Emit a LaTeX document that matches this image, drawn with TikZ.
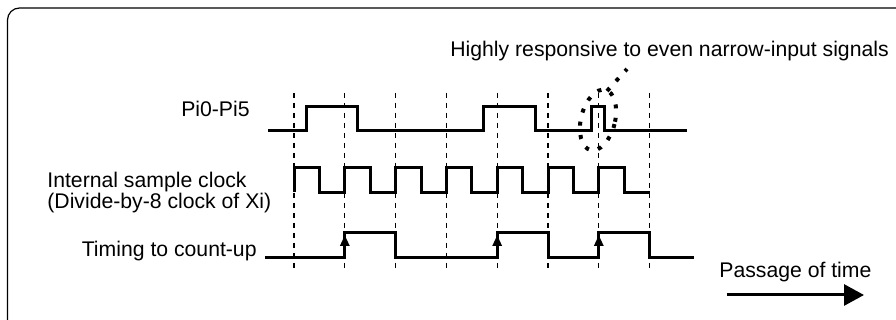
\documentclass[tikz,border=0pt]{standalone}
\usepackage{fontspec}
\setmainfont{Liberation Sans}
\usetikzlibrary{arrows.meta}

\begin{document}
\begin{tikzpicture}[x=0.5pt,y=-0.5pt,
  font=\fontsize{10.6}{10.3}\selectfont,
  lbl/.style = {inner sep=0pt},
  sig/.style = {line width=1.5pt,line join=miter},
  grid/.style = {line width=0.65pt,dash pattern=on 2.5pt off 2.5pt},
  dots/.style = {line width=2pt,dash pattern=on 2pt off 4.7pt}]
 \useasboundingbox (0,0) rectangle (896,320);
 \draw[line width=0.6pt,rounded corners=6pt] (7.5,8) rectangle (910,335);
 % labels
 \node[lbl,anchor=base east] (pi)   at (250,117) {Pi0-Pi5};
 \node[lbl,anchor=west,align=left] (clk) at (47,192.5)
   {Internal sample clock\\(Divide-by-8 clock of Xi)};
 \node[lbl,anchor=base east] (cnt)  at (257,256.7) {Timing to count-up};
 \node[lbl,anchor=base west] (note) at (450,57)
   {Highly responsive to even narrow-input signals};
 \node[lbl,anchor=base west] (time) at (719,278) {Passage of time};
 % sample points
 \foreach \i in {0,...,7}
   \draw[grid] (294+\i*50.8,93) -- (294+\i*50.8,272);
 % waveforms
 \draw[sig] (268,131) -- (306.7,131) -- (306.7,107) -- (357.3,107)
   -- (357.3,131) -- (483.3,131) -- (483.3,107) -- (535.3,107)
   -- (535.3,131) -- (591,131) -- (591,107) -- (604,107) -- (604,131)
   -- (687,131);
 \draw[sig] (294,192.5) \foreach \i in {0,...,6}
   { -- ++(0,-25) -- ++(25.4,0) -- ++(0,25) -- ++(25.4,0) };
 \draw[sig] (265,258) -- (344.8,258) -- (344.8,233) -- (395.6,233)
   -- (395.6,258) -- (497.2,258) -- (497.2,233) -- (548,233)
   -- (548,258) -- (598.8,258) -- (598.8,233) -- (649.6,233)
   -- (649.6,258) -- (694,258);
 \foreach \x in {344.8,497.2,598.8}
   \draw[sig,-{Triangle[length=5.5pt,width=4.5pt]},shorten >=1pt]
     (\x,258) -- (\x,233);
 % narrow pulse mark
 \draw[dots,rotate around={-14:(598,120)}] (598,120) ellipse [x radius=17,y radius=31];
 \coordinate (m0) at (607,91);
 \coordinate (m1) at (627,69);
 \draw[dots] (m0) -- (m1);
 % time arrow
 \coordinate (t0) at (726.7,295);
 \coordinate (t1) at (864,295);
 \draw[line width=1.5pt,-{Triangle[length=10pt,width=10.5pt]}] (t0) -- (t1);
\end{tikzpicture}
\end{document}
